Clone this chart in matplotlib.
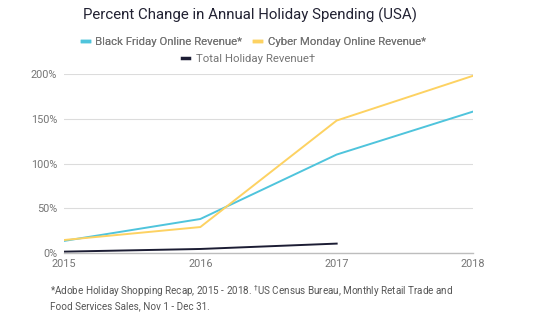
import matplotlib.pyplot as plt
from matplotlib.lines import Line2D
from matplotlib.ticker import FuncFormatter

plt.rcParams['font.family'] = ['Roboto', 'DejaVu Sans']

years = [2015, 2016, 2017, 2018]
black_friday = [13.5, 38, 110, 158]
cyber_monday = [14.5, 29, 148, 198]
total_years = [2015, 2016, 2017]
total_holiday = [1.5, 4.5, 10.5]

bf_color = '#4fc4dc'
cm_color = '#fdd262'
total_color = '#1c1d34'

fig = plt.figure(figsize=(5.34, 3.27), dpi=100)
ax = fig.add_axes([64 / 534, 1 - 253 / 327, (473 - 64) / 534, (253 - 74) / 327])

ax.plot(years, black_friday, color=bf_color, lw=1.4)
ax.plot(years, cyber_monday, color=cm_color, lw=1.4)
ax.plot(total_years, total_holiday, color=total_color, lw=1.4)

ax.set_xlim(2015, 2018)
ax.set_ylim(0, 200)
ax.set_yticks([0, 50, 100, 150, 200])
ax.set_xticks(years)
ax.yaxis.set_major_formatter(FuncFormatter(lambda v, p: f'{v:.0f}%'))
ax.grid(axis='y', color='#dcdcdc', lw=0.8)
ax.set_axisbelow(True)
for s in ['top', 'right', 'left']:
    ax.spines[s].set_visible(False)
ax.spines['bottom'].set_color('#bdbdbd')
ax.spines['bottom'].set_linewidth(1)
ax.tick_params(length=0, labelsize=7.8, labelcolor='#757575')
ax.tick_params(axis='y', pad=5)
ax.tick_params(axis='x', pad=4)

fig.text(0.468, 1 - 15 / 327, 'Percent Change in Annual Holiday Spending (USA)',
         ha='center', va='center', fontsize=10.8, color='#222233')

# two-row legend: first row with the online series, total on its own row
row1 = [Line2D([], [], color=bf_color, lw=2.5), Line2D([], [], color=cm_color, lw=2.5)]
leg1 = fig.legend(row1, ['Black Friday Online Revenue*', 'Cyber Monday Online Revenue*'],
                  loc='center', bbox_to_anchor=(0.475, 1 - 42 / 327), ncol=2, frameon=False,
                  fontsize=8.2, handlelength=0.6, handletextpad=0.6, columnspacing=1.0,
                  labelcolor='#757575')
row2 = [Line2D([], [], color=total_color, lw=2.5)]
fig.legend(row2, ['Total Holiday Revenue†'], loc='center', bbox_to_anchor=(0.465, 1 - 59 / 327),
           frameon=False, fontsize=8.2, handlelength=0.6, handletextpad=0.6, labelcolor='#757575')
fig.add_artist(leg1)

fig.text(50 / 534, 1 - 291 / 327,
         '*Adobe Holiday Shopping Recap, 2015 - 2018. $^{\\dagger}$US Census Bureau, Monthly Retail Trade and',
         ha='left', va='center', fontsize=7.15, color='#555555')
fig.text(50 / 534, 1 - 306 / 327, 'Food Services Sales, Nov 1 - Dec 31.',
         ha='left', va='center', fontsize=7.15, color='#555555')

fig.savefig('out.png', dpi=100)
